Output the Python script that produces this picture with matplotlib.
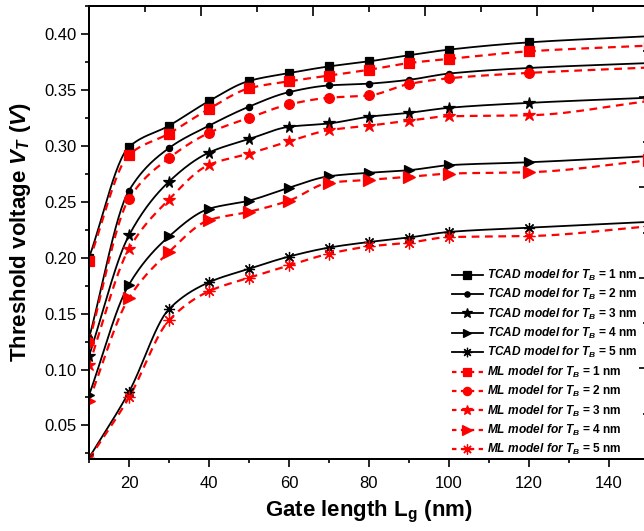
import numpy as np
import matplotlib
matplotlib.use("Agg")
import matplotlib.pyplot as plt
from matplotlib.ticker import MultipleLocator

plt.rcParams['font.family'] = 'Liberation Sans'
plt.rcParams['mathtext.fontset'] = 'custom'
plt.rcParams['mathtext.it'] = 'Liberation Sans:italic:bold'
plt.rcParams['mathtext.rm'] = 'Liberation Sans:bold'
plt.rcParams['mathtext.bf'] = 'Liberation Sans:bold'

# gate length (nm)
lg = [10, 20, 30, 40, 50, 60, 70, 80, 90, 100, 120, 150]

# TCAD threshold voltage (V)
tcad_1nm = [0.200, 0.299, 0.318, 0.340, 0.358, 0.365, 0.371, 0.3755, 0.381, 0.386, 0.3925, 0.398]
tcad_2nm = [0.128, 0.260, 0.298, 0.318, 0.335, 0.348, 0.354, 0.3556, 0.359, 0.3646, 0.3696, 0.374]
tcad_3nm = [0.112, 0.220, 0.268, 0.294, 0.306, 0.317, 0.320, 0.326, 0.3295, 0.334, 0.3384, 0.343]
tcad_4nm = [0.077, 0.176, 0.219, 0.2437, 0.251, 0.2625, 0.2728, 0.2759, 0.2782, 0.2827, 0.2853, 0.2907]
tcad_5nm = [0.021, 0.080, 0.154, 0.178, 0.190, 0.201, 0.209, 0.214, 0.218, 0.223, 0.2268, 0.232]

# ML threshold voltage (V)
ml_1nm = [0.197, 0.292, 0.311, 0.333, 0.3514, 0.3577, 0.3628, 0.368, 0.374, 0.3777, 0.3845, 0.3896]
ml_2nm = [0.125, 0.2527, 0.289, 0.3116, 0.325, 0.337, 0.343, 0.345, 0.3553, 0.3604, 0.3652, 0.370]
ml_3nm = [0.104, 0.208, 0.252, 0.283, 0.293, 0.304, 0.314, 0.318, 0.3226, 0.3264, 0.3273, 0.340]
ml_4nm = [0.072, 0.164, 0.205, 0.2336, 0.241, 0.251, 0.267, 0.2696, 0.2723, 0.2752, 0.2764, 0.287]
ml_5nm = [0.020, 0.075, 0.144, 0.170, 0.182, 0.193, 0.2035, 0.210, 0.2134, 0.2184, 0.2193, 0.228]

thickness = [1, 2, 3, 4, 5]


def smooth(x, y, n=400):
    """monotone cubic (Fritsch-Carlson) curve through the points"""
    x = np.asarray(x, float)
    y = np.asarray(y, float)
    h = np.diff(x)
    d = np.diff(y) / h
    m = np.zeros_like(y)
    m[0], m[-1] = d[0], d[-1]
    for i in range(1, len(x) - 1):
        if d[i - 1] * d[i] > 0:
            w1 = 2 * h[i] + h[i - 1]
            w2 = h[i] + 2 * h[i - 1]
            m[i] = (w1 + w2) / (w1 / d[i - 1] + w2 / d[i])
    xs = np.linspace(x[0], x[-1], n)
    k = np.clip(np.searchsorted(x, xs) - 1, 0, len(x) - 2)
    t = (xs - x[k]) / h[k]
    h00 = 2 * t**3 - 3 * t**2 + 1
    h10 = t**3 - 2 * t**2 + t
    h01 = -2 * t**3 + 3 * t**2
    h11 = t**3 - t**2
    ys = h00 * y[k] + h10 * h[k] * m[k] + h01 * y[k + 1] + h11 * h[k] * m[k + 1]
    return xs, ys


fig = plt.figure(figsize=(6.44, 5.31), dpi=100)
ax = fig.add_axes([89 / 644, 72 / 531, 560 / 644, 453 / 531])

tcad_all = [tcad_1nm, tcad_2nm, tcad_3nm, tcad_4nm, tcad_5nm]
ml_all = [ml_1nm, ml_2nm, ml_3nm, ml_4nm, ml_5nm]
tcad_marks = [('s', 6), ('o', 4.5), ('*', 8.5), ('>', 7), ((8, 2, 0), 8)]
ml_marks = [('s', 6.5), ('o', 7), ('*', 9), ('>', 8), ((8, 2, 0), 8.5)]

handles = []
for tb, vals, (mk, ms) in zip(thickness, tcad_all, tcad_marks):
    xs, ys = smooth(lg, vals)
    ax.plot(xs, ys, color='black', lw=1.3, zorder=3)
    ax.plot(lg, vals, ls='none', marker=mk, ms=ms, color='black',
            mew=0.9, zorder=4)
    h, = ax.plot([], [], color='black', lw=1.3, marker=mk, ms=ms * 0.85, mew=0.9,
                 label=r"$TCAD\ model\ for\ T_B$ = %d nm" % tb)
    handles.append(h)

for tb, vals, (mk, ms) in zip(thickness, ml_all, ml_marks):
    xs, ys = smooth(lg, vals)
    ax.plot(xs, ys, color='#ff0000', lw=1.6, ls=(0, (3.5, 2.5)), zorder=3)
    ax.plot(lg, vals, ls='none', marker=mk, ms=ms, color='#ff0000',
            mew=0.9, zorder=4)
    h, = ax.plot([], [], color='#ff0000', lw=1.6, ls=(0, (2, 2)), marker=mk,
                 ms=ms * 0.85, mew=0.9,
                 label=r"$ML\ model\ for\ T_B$ = %d nm" % tb)
    handles.append(h)

ax.set_xlim(10, 150)
ax.set_ylim(0.02, 0.425)
ax.xaxis.set_major_locator(MultipleLocator(20))
ax.xaxis.set_minor_locator(MultipleLocator(10))
ax.yaxis.set_major_locator(MultipleLocator(0.05))
ax.yaxis.set_minor_locator(MultipleLocator(0.025))
ax.yaxis.set_major_formatter(plt.FormatStrFormatter('%.2f'))
ax.tick_params(which='major', direction='out', length=6, width=1.2,
               labelsize=12, pad=6)
ax.tick_params(which='minor', direction='out', length=3, width=1.2)
ax.tick_params(axis='y', pad=3)
for sp in ax.spines.values():
    sp.set_linewidth(1.4)

ax.set_xlabel(r"Gate length L$_\mathrm{g}$ (nm)", fontsize=16,
              fontweight='bold', labelpad=6)
ax.set_ylabel(r"Threshold voltage $V_T\ (V)$", fontsize=16,
              fontweight='bold', labelpad=8)

# extra unlabeled tick rows on top and right, as in the original frame
top = ax.twiny()
top.set_xlim(0, 5)
top.xaxis.set_major_locator(MultipleLocator(1))
top.xaxis.set_minor_locator(MultipleLocator(0.5))
top.tick_params(which='major', direction='in', length=7, width=1.2, labeltop=False)
top.tick_params(which='minor', direction='in', length=4, width=1.2)
right = ax.twinx()
right.set_ylim(0, 10)
right.yaxis.set_major_locator(MultipleLocator(2))
right.yaxis.set_minor_locator(MultipleLocator(1))
right.tick_params(which='major', direction='in', length=7, width=1.2, labelright=False)
right.tick_params(which='minor', direction='in', length=4, width=1.2)
for a in (top, right):
    for sp in a.spines.values():
        sp.set_linewidth(1.4)

leg = ax.legend(handles=handles, loc='lower right', bbox_to_anchor=(0.995, -0.015),
                frameon=False, fontsize=8.6, handlelength=2.6, handletextpad=0.4,
                labelspacing=0.36, borderpad=0.2)
for txt in leg.get_texts():
    txt.set_fontweight('bold')

fig.savefig('out.png', dpi=100)
